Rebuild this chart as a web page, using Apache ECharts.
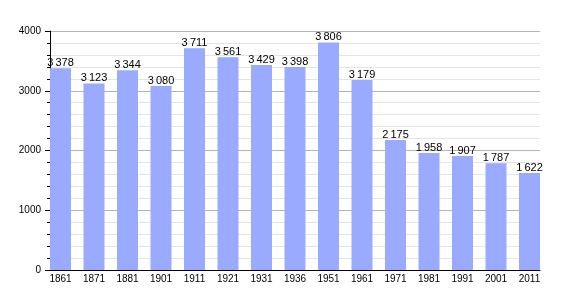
<!DOCTYPE html>
<html><head><meta charset="utf-8">
<script src="https://cdn.jsdelivr.net/npm/echarts@6/dist/echarts.min.js"></script>
<style>html,body{margin:0;padding:0;background:#fff}#c{width:570px;height:300px}</style>
</head><body><div id="c"></div>
<script>
const years = ['1861','1871','1881','1901','1911','1921','1931','1936','1951','1961','1971','1981','1991','2001','2011'];
const population = [3378,3123,3344,3080,3711,3561,3429,3398,3806,3179,2175,1958,1907,1787,1622];
const yTicks = [0,1000,2000,3000,4000];

function fmt(v){ const s=String(v); return s.length>3 ? s.slice(0,s.length-3)+'\u2009'+s.slice(-3) : s; }

const chart = echarts.init(document.getElementById('c'), null, {renderer:'canvas'});
const font = 'Liberation Sans, Arial, sans-serif';
chart.setOption({
  animation:false,
  grid:[
    {left:50, right:30, top:31, bottom:30},
    {left:43.75, right:23.75, top:31, bottom:30}
  ],
  xAxis:[
    {gridIndex:0, type:'value', min:0, max:1, axisLine:{show:true, lineStyle:{color:'#000', width:1}}, axisTick:{show:false}, axisLabel:{show:false}, splitLine:{show:false}},
    {gridIndex:1, type:'category', data:years, axisLine:{show:false}, axisTick:{show:false},
     axisLabel:{color:'#000', fontSize:10, fontFamily:font, margin:4, interval:0}}
  ],
  yAxis:[
    {gridIndex:0, type:'value', min:yTicks[0], max:yTicks[yTicks.length-1], interval:1000,
     axisLine:{show:true, lineStyle:{color:'#000', width:1}},
     axisTick:{show:true, length:5, lineStyle:{color:'#000'}},
     minorTick:{show:true, splitNumber:5, length:3, lineStyle:{color:'#000'}},
     axisLabel:{color:'#000', fontSize:10, fontFamily:font, margin:9, formatter:v=>String(v)},
     splitLine:{show:true, lineStyle:{color:'#b4b4b4', width:1}},
     minorSplitLine:{show:true, lineStyle:{color:'#e4e4e4', width:1}}},
    {gridIndex:1, type:'value', min:0, max:4000, show:false, splitLine:{show:false}}
  ],
  series:[{
    type:'bar', xAxisIndex:1, yAxisIndex:1, data:population, barWidth:21,
    itemStyle:{color:'#99aaff'},
    label:{show:true, position:'top', distance:0, color:'#000', fontSize:11, fontFamily:font,
      formatter:p=>fmt(p.value)}
  }]
});
</script></body></html>
